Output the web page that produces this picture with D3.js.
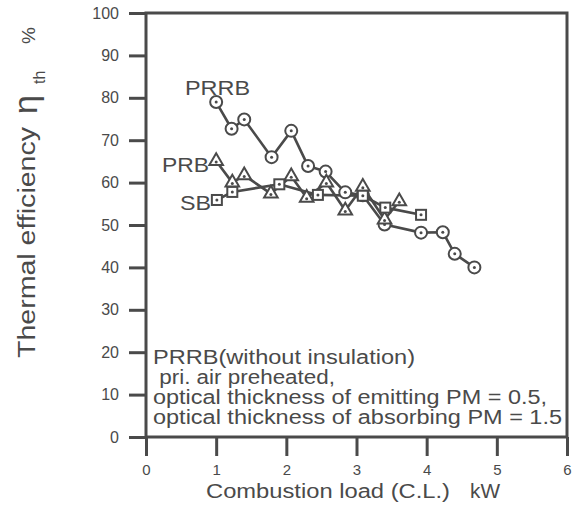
<!DOCTYPE html>
<html>
<head>
<meta charset="utf-8">
<script src="https://cdn.jsdelivr.net/npm/d3@7"></script>
<style>
  html, body { margin: 0; padding: 0; background: #fff; }
  svg { display: block; }
  text { font-family: "Liberation Sans", Arial, Helvetica, sans-serif; fill: #4a4a4a; }
</style>
</head>
<body>
<svg id="chart" width="572" height="516"></svg>
<script>
// ---- data ----
const prrbLoad = [1.0, 1.22, 1.4, 1.79, 2.07, 2.31, 2.56, 2.84, 3.09, 3.4, 3.92, 4.23, 4.4, 4.68];
const prrbEff  = [79.0, 72.7, 74.9, 66.0, 72.2, 63.9, 62.6, 57.7, 57.0, 50.1, 48.2, 48.3, 43.2, 40.0];
const prbLoad  = [1.0, 1.23, 1.4, 1.78, 2.07, 2.29, 2.57, 2.84, 3.09, 3.4, 3.61];
const prbEff   = [65.1, 60.0, 61.7, 57.4, 61.5, 56.4, 60.0, 53.4, 59.0, 51.3, 55.6];
const sbLoad   = [1.01, 1.23, 1.9, 2.45, 3.09, 3.41, 3.92];
const sbEff    = [55.9, 57.8, 59.6, 57.1, 56.9, 54.1, 52.4];
const xTicks = [0, 1, 2, 3, 4, 5, 6];
const yTicks = [0, 10, 20, 30, 40, 50, 60, 70, 80, 90, 100];
const seriesNames = ["PRRB", "PRB", "SB"];
const noteLines = [
  "PRRB(without insulation)",
  " pri. air preheated,",
  "optical thickness of emitting PM = 0.5,",
  "optical thickness of absorbing PM = 1.5"
];

const svg = d3.select("#chart");
const ink = "#4a4a4a";
const x = d3.scaleLinear().domain([0, 6]).range([146, 567]);
const y = d3.scaleLinear().domain([0, 100]).range([437, 13]);

// axes
const yAxis = d3.axisLeft(y).tickValues(yTicks).tickSize(17).tickSizeOuter(0).tickPadding(10).tickFormat(d3.format("d"));
const gy = svg.append("g").attr("transform", `translate(${x(0)},0)`).call(yAxis);
gy.select(".domain").remove();
gy.selectAll(".tick line").attr("stroke", ink).attr("stroke-width", 3);
gy.selectAll(".tick text").style("font-size", "16px").attr("fill", ink);

const xAxis = d3.axisBottom(x).tickValues(xTicks).tickSize(19).tickSizeOuter(0).tickPadding(8).tickFormat(d3.format("d"));
const gx = svg.append("g").attr("transform", `translate(0,${y(0)})`).call(xAxis);
gx.select(".domain").remove();
gx.selectAll(".tick line").attr("stroke", ink).attr("stroke-width", 3);
gx.selectAll(".tick text").style("font-size", "15px").attr("fill", ink);

// frame
svg.append("rect")
  .attr("x", x(0)).attr("y", y(100))
  .attr("width", x(6) - x(0)).attr("height", y(0) - y(100))
  .attr("fill", "none").attr("stroke", ink).attr("stroke-width", 3);

// axis titles
svg.append("text").attr("x", 206).attr("y", 498)
  .attr("textLength", 244).attr("lengthAdjust", "spacingAndGlyphs")
  .style("font-size", "20px").text("Combustion load (C.L.)");
svg.append("text").attr("x", 470).attr("y", 498)
  .attr("textLength", 30).attr("lengthAdjust", "spacingAndGlyphs")
  .style("font-size", "20px").text("kW");

svg.append("text").attr("transform", "translate(35,358) rotate(-90)")
  .attr("textLength", 231).attr("lengthAdjust", "spacingAndGlyphs")
  .style("font-size", "23px").text("Thermal efficiency");
svg.append("text").attr("transform", "translate(37,114) rotate(-90)")
  .style("font-size", "34px").text("η");
svg.append("text").attr("transform", "translate(45,84) rotate(-90)")
  .style("font-size", "16px").text("th");
svg.append("text").attr("transform", "translate(35,44) rotate(-90)")
  .style("font-size", "19px").text("%");

// series
const series = [
  { name: seriesNames[0], xs: prrbLoad, ys: prrbEff, shape: "circle" },
  { name: seriesNames[1], xs: prbLoad, ys: prbEff, shape: "triangle" },
  { name: seriesNames[2], xs: sbLoad, ys: sbEff, shape: "square" }
];
const line = d3.line().x(d => x(d[0])).y(d => y(d[1]));
const plot = svg.append("g");
series.forEach(s => {
  const pts = s.xs.map((v, i) => [v, s.ys[i]]);
  plot.append("path").attr("d", line(pts))
    .attr("fill", "none").attr("stroke", ink).attr("stroke-width", 2.6)
    .attr("stroke-linejoin", "round");
});
series.forEach(s => {
  const pts = s.xs.map((v, i) => [v, s.ys[i]]);
  const g = plot.append("g");
  pts.forEach(p => {
    const cx = x(p[0]), cy = y(p[1]);
    if (s.shape === "circle") {
      g.append("circle").attr("cx", cx).attr("cy", cy).attr("r", 6)
        .attr("fill", "#fff").attr("stroke", ink).attr("stroke-width", 2);
    } else if (s.shape === "square") {
      g.append("rect").attr("x", cx - 5).attr("y", cy - 5).attr("width", 10).attr("height", 10)
        .attr("fill", "#fff").attr("stroke", ink).attr("stroke-width", 2);
    } else {
      const sym = d3.symbol().type(d3.symbolTriangle).size(80);
      g.append("path").attr("d", sym()).attr("transform", `translate(${cx},${cy})`)
        .attr("fill", "#fff").attr("stroke", ink).attr("stroke-width", 2);
    }
    g.append("circle").attr("cx", cx).attr("cy", cy + (s.shape === "triangle" ? 1 : 0)).attr("r", 1.5).attr("fill", ink);
  });
});

// series labels
svg.append("text").attr("x", 185).attr("y", 95)
  .attr("textLength", 65).attr("lengthAdjust", "spacingAndGlyphs")
  .style("font-size", "21px").text(seriesNames[0]);
svg.append("text").attr("x", 162).attr("y", 172)
  .attr("textLength", 47).attr("lengthAdjust", "spacingAndGlyphs")
  .style("font-size", "21px").text(seriesNames[1]);
svg.append("text").attr("x", 180).attr("y", 210)
  .attr("textLength", 31).attr("lengthAdjust", "spacingAndGlyphs")
  .style("font-size", "21px").text(seriesNames[2]);

// annotation
const noteX = [153, 153, 153, 153];
const noteY = [364, 384, 404, 424];
const noteW = [262, 182, 394, 409];
noteLines.forEach((t, i) => {
  svg.append("text").attr("x", noteX[i]).attr("y", noteY[i])
    .attr("textLength", noteW[i]).attr("lengthAdjust", "spacingAndGlyphs")
    .attr("xml:space", "preserve").style("white-space", "pre")
    .style("font-size", "20px").text(t);
});
</script>
</body>
</html>
